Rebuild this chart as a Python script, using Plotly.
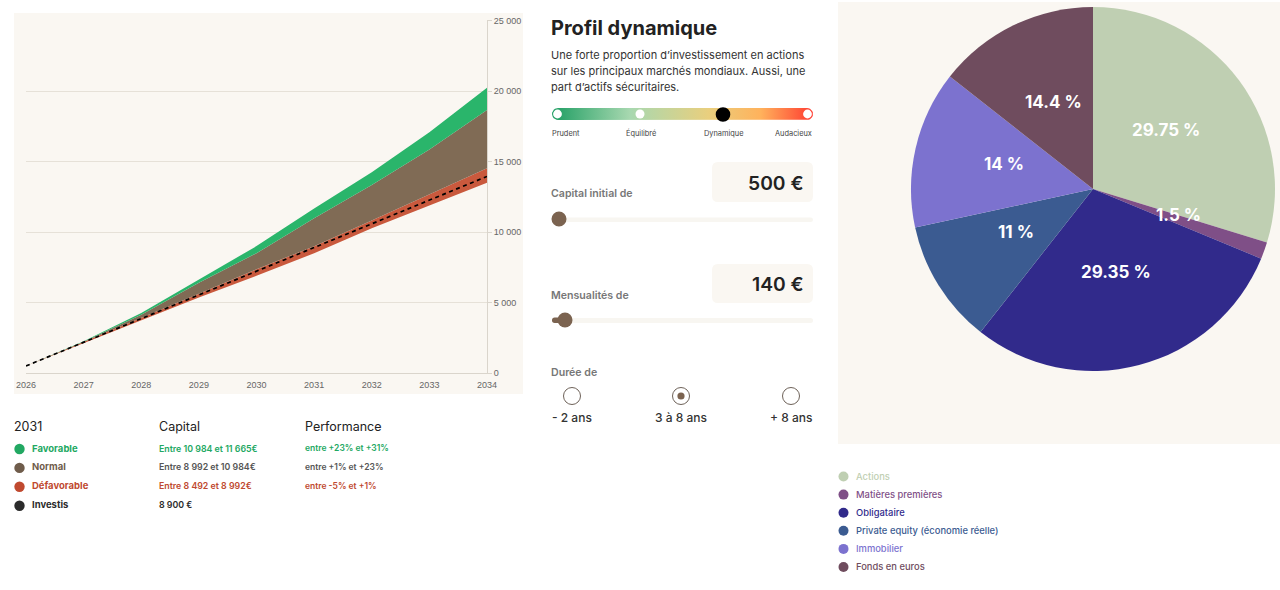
import math

import plotly.graph_objects as go

UI_FONT = "Inter"
W, H = 1280, 590

# projection chart
years = [2026, 2027, 2028, 2029, 2030, 2031, 2032, 2033, 2034]
favorable = [500, 2250, 4250, 6650, 9000, 11665, 14235, 17070, 20230]
normal = [500, 2220, 4130, 6400, 8500, 10984, 13340, 15850, 18650]
defavorable_top = [500, 2190, 3900, 5620, 7350, 8992, 10810, 12650, 14520]
defavorable_low = [500, 2130, 3760, 5350, 6900, 8492, 10270, 11880, 13500]
invested = [500, 2180, 3860, 5540, 7220, 8900, 10580, 12260, 13940]
y_ticks = [0, 5000, 10000, 15000, 20000, 25000]
y_tick_labels = ["0", "5 000", "10 000", "15 000", "20 000", "25 000"]

# allocation pie
pie_labels = ["Actions", "Matières premières", "Obligataire",
              "Private equity (économie réelle)", "Immobilier", "Fonds en euros"]
pie_values = [29.75, 1.5, 29.35, 11, 14, 14.4]
pie_colors = ["#BFCFB2", "#7F4F87", "#312A8B", "#3B5B91", "#7C72CF", "#6F4C5E"]

GREEN = "#2AB56B"
BROWN = "#806B55"
RED = "#C9593D"
PANEL = "#FAF7F2"
TRACK = "#F8F6F1"
KNOB = "#7B6350"

shapes = []
annotations = []


def px(x):
    return x / W


def py(y):
    return 1 - y / H


def text(x, y, s, size=11, color="#333", anchor="left", weight=400, font=UI_FONT):
    # annotations keep about a pixel of padding on the left
    x = x - 1 if anchor == "left" else x
    annotations.append(dict(
        x=px(x), y=py(y), xref="paper", yref="paper", text=s, showarrow=False,
        xanchor=anchor, yanchor="middle", align=anchor, borderpad=0,
        font=dict(family=font, size=size, color=color, weight=weight),
    ))


def rect(x0, y0, x1, y1, color, layer="below"):
    shapes.append(dict(type="rect", xref="paper", yref="paper", layer=layer,
                       x0=px(x0), x1=px(x1), y0=py(y0), y1=py(y1),
                       fillcolor=color, line_width=0))


def round_rect(x0, y0, x1, y1, rad, color, layer="below"):
    def p(x, y):
        return f"{px(x):.5f},{py(y):.5f}"
    path = (f"M{p(x0 + rad, y0)} L{p(x1 - rad, y0)} Q{p(x1, y0)} {p(x1, y0 + rad)} "
            f"L{p(x1, y1 - rad)} Q{p(x1, y1)} {p(x1 - rad, y1)} "
            f"L{p(x0 + rad, y1)} Q{p(x0, y1)} {p(x0, y1 - rad)} "
            f"L{p(x0, y0 + rad)} Q{p(x0, y0)} {p(x0 + rad, y0)} Z")
    shapes.append(dict(type="path", xref="paper", yref="paper", layer=layer, path=path,
                       fillcolor=color, line_width=0))


def dot(cx, cy, r, color, border=None, bw=1):
    shapes.append(dict(type="circle", xref="paper", yref="paper", layer="above",
                       x0=px(cx - r), x1=px(cx + r), y0=py(cy + r), y1=py(cy - r),
                       fillcolor=color,
                       line=dict(color=border or color, width=bw if border else 0)))


# panels
rect(14, 13, 523, 394, PANEL)
rect(838, 2, 1280, 444, PANEL)
round_rect(712, 162, 813, 202, 6, PANEL)
round_rect(712, 264, 813, 303, 6, PANEL)

fig = go.Figure()

# stacked bands, drawn from the lowest curve up
fig.add_trace(go.Scatter(x=years, y=defavorable_low, mode="lines", line=dict(width=0),
                         hoverinfo="skip"))
for values, color in [(defavorable_top, RED), (normal, BROWN), (favorable, GREEN)]:
    fig.add_trace(go.Scatter(x=years, y=values, mode="lines", line=dict(width=0),
                             fill="tonexty", fillcolor=color))
fig.add_trace(go.Scatter(x=years, y=invested, mode="lines",
                         line=dict(color="#000", width=1.7, dash="4px 3.5px")))

# risk gradient bar lives on a full-page pixel axis, with rounded ends
bar_x, bar_y = [], []
for deg in range(90, 271, 15):
    bar_x.append(558 + 6 * math.cos(math.radians(deg)))
    bar_y.append(114 - 6 * math.sin(math.radians(deg)))
for deg in range(270, 451, 15):
    bar_x.append(807 + 6 * math.cos(math.radians(deg)))
    bar_y.append(114 - 6 * math.sin(math.radians(deg)))
fig.add_trace(go.Scatter(
    x=bar_x + bar_x[:1], y=bar_y + bar_y[:1],
    xaxis="x2", yaxis="y2", mode="lines", line=dict(width=0), fill="toself",
    fillgradient=dict(type="horizontal", colorscale=[
        [0, "#1F9E63"], [0.3, "#A8D8B0"], [0.6, "#E9CF7E"],
        [0.8, "#FFB25C"], [1, "#FF3B30"]]),
    hoverinfo="skip",
))

# pie
cx, cy, r = 1093, 189, 182
fig.add_trace(go.Pie(
    labels=pie_labels, values=pie_values, sort=False, direction="clockwise",
    rotation=0, marker=dict(colors=pie_colors, line=dict(width=0)),
    textinfo="none", hoverinfo="label+value",
    domain=dict(x=[px(cx - r), px(cx + r)], y=[py(cy + r), py(cy - r)]),
))
total = sum(pie_values)
cum = 0
for v in pie_values:
    a = 2 * math.pi * (cum + v / 2) / total
    cum += v
    text(cx + 0.5 * r * math.sin(a), cy - 0.5 * r * math.cos(a) - 5, f"{v:g} %",
         size=17, color="#fff", anchor="center", weight=700)

# pie legend
for i, (label, color) in enumerate(zip(pie_labels, pie_colors)):
    y = 476 + i * 18.1
    dot(843.5, y + 0.5, 5, color)
    text(856, y, label, size=9.4, color=color, weight=500)

# table under the chart
text(14, 426, "2031", size=12.5, color="#222")
text(159, 426, "Capital", size=12.5, color="#222")
text(305, 426, "Performance", size=12.5, color="#222")
rows = [
    ("Favorable", "Entre 10 984 et 11 665€", "entre +23% et +31%", "#22A862", "#22A862"),
    ("Normal", "Entre 8 992 et 10 984€", "entre +1% et +23%", "#6F5C4B", "#555"),
    ("Défavorable", "Entre 8 492 et 8 992€", "entre -5% et +1%", "#C0492F", "#C0492F"),
    ("Investis", "8 900 €", "", "#2B2B2B", "#2B2B2B"),
]
for i, (name, capital, perf, color, col2) in enumerate(rows):
    y = 448 + i * 18.9
    dot(19.5, y + 1, 5.2, color)
    text(31.5, y, name, size=9.5, color=color, weight=700)
    text(159, y, capital, size=8.8, color=col2, weight=600)
    if perf:
        text(305, y, perf, size=8.5, color=col2, weight=600)

# profile column
text(551, 28, "Profil dynamique", size=20, color="#222", weight=700)
text(551, 55, "Une forte proportion d’investissement en actions", size=11, color="#333")
text(551, 71, "sur les principaux marchés mondiaux. Aussi, une", size=11, color="#333")
text(551, 87, "part d’actifs sécuritaires.", size=11, color="#333")

dot(557.5, 114, 4.4, "#fff")
dot(640, 114, 4.5, "#fff")
dot(723, 114.5, 7.3, "#000")
dot(807.5, 114, 4.4, "#fff")
for x, label, anchor in [(552, "Prudent", "left"), (640.5, "Équilibré", "center"),
                         (723, "Dynamique", "center"), (813, "Audacieux", "right")]:
    text(x, 133, label, size=7.4, color="#444", anchor=anchor)

text(551, 194, "Capital initial de", size=10.6, color="#777", weight=600)
text(805, 183, "500 €", size=19.3, color="#222", anchor="right", weight=600)
round_rect(552, 217.5, 813, 222, 2.2, TRACK)
dot(559, 219, 7.5, KNOB)

text(551, 295, "Mensualités de", size=10.6, color="#777", weight=600)
text(805, 284, "140 €", size=19.3, color="#222", anchor="right", weight=600)
round_rect(552, 318, 813, 323, 2.5, TRACK)
round_rect(552, 317.5, 566, 323, 2.7, KNOB, layer="above")
dot(565, 320, 7.5, KNOB)

text(551, 372, "Durée de", size=10.6, color="#777", weight=600)
for x, label in [(572, "- 2 ans"), (681, "3 à 8 ans"), (791, "+ 8 ans")]:
    dot(x, 396, 8.5, "#fff", "#6E6259", 1)
    text(x, 417, label, size=12, color="#333", anchor="center", weight=500)
dot(681, 396, 3.6, KNOB)

fig.update_layout(
    width=W, height=H, margin=dict(l=0, r=0, t=0, b=0, autoexpand=False),
    paper_bgcolor="#fff", plot_bgcolor="rgba(0,0,0,0)", showlegend=False,
    shapes=shapes, annotations=annotations,
    xaxis=dict(domain=[px(26), px(487)], range=[2026, 2034], tickvals=years,
               showgrid=False, showline=True, linecolor="#DAD5CC", linewidth=1,
               ticks="", zeroline=False, automargin=False, ticklabelstandoff=3,
               tickfont=dict(family="Liberation Sans", size=9, color="#666")),
    # top of the range sits just past 25 000 so its gridline stays drawn
    yaxis=dict(domain=[py(373), py(19.8)], range=[0, 25050], side="right",
               anchor="x", tickvals=y_ticks, ticktext=y_tick_labels,
               gridcolor="#E6E1D8", gridwidth=1, showline=True, linecolor="#DAD5CC",
               linewidth=1, ticks="outside", ticklen=4, tickcolor="#DAD5CC",
               zeroline=False, automargin=False,
               tickfont=dict(family="Liberation Sans", size=9, color="#666")),
    xaxis2=dict(domain=[0, 1], range=[0, W], visible=False, anchor="y2", automargin=False),
    yaxis2=dict(domain=[0, 1], range=[H, 0], visible=False, anchor="x2", automargin=False),
)

fig.write_html("out.html", config={"displayModeBar": False},
               post_script="document.body.style.margin='0';")
